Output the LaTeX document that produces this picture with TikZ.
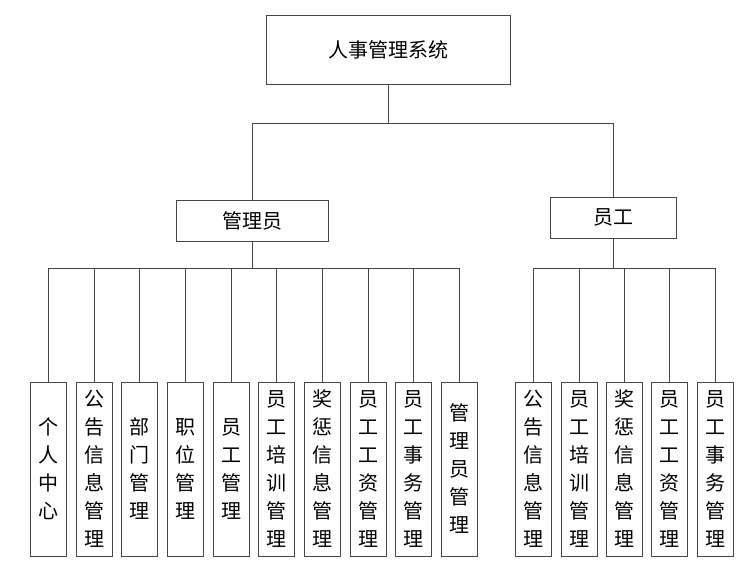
\documentclass[tikz,border=0pt]{standalone}
\usepackage{fontspec}
\newfontfamily\cjk{Noto Sans CJK SC}
\definecolor{linec}{RGB}{70,70,70}
\begin{document}
\begin{tikzpicture}[x=1pt,y=-1pt,
  box/.style={draw=linec, line width=1pt, inner sep=0pt, align=center, fill=white,
    font=\cjk\fontsize{20}{28}\selectfont},
  vbox/.style={box, minimum width=36pt, minimum height=174pt},
  conn/.style={draw=linec, line width=1pt}]
\useasboundingbox (0,0) rectangle (749,570);
\node[box, minimum width=244pt, minimum height=69pt] (top) at (388,49.5) {人事管理系统};
\node[box, minimum width=152pt, minimum height=41pt] (admin) at (252,220.5) {管理员};
\node[box, minimum width=126pt, minimum height=41pt] (staff) at (613,217.5) {员工};
\coordinate (b1) at (388,123);
\draw[conn] (top.south) -- (b1);
\draw[conn] (b1) -| (admin.north);
\draw[conn] (b1) -| (staff.north);
\coordinate (b2) at (252,268);
\coordinate (b3) at (613,268);
\foreach \t [count=\i from 0] in {{个\\人\\中\\心},{公\\告\\信\\息\\管\\理},{部\\门\\管\\理},{职\\位\\管\\理},{员\\工\\管\\理},{员\\工\\培\\训\\管\\理},{奖\\惩\\信\\息\\管\\理},{员\\工\\工\\资\\管\\理},{员\\工\\事\\务\\管\\理},{管\\理\\员\\管\\理}}{
  \node[vbox] (a\i) at ({48.3+45.7*\i},469) {\t};
  \draw[conn] (a\i.north) -- (a\i.north |- b2);
}
\foreach \t [count=\i from 0] in {{公\\告\\信\\息\\管\\理},{员\\工\\培\\训\\管\\理},{奖\\惩\\信\\息\\管\\理},{员\\工\\工\\资\\管\\理},{员\\工\\事\\务\\管\\理}}{
  \node[vbox] (s\i) at ({533.7+45.4*\i},469) {\t};
  \draw[conn] (s\i.north) -- (s\i.north |- b3);
}
\draw[conn] (admin.south) -- (b2);
\draw[conn] (a0.north |- b2) -- (a9.north |- b2);
\draw[conn] (staff.south) -- (b3);
\draw[conn] (s0.north |- b3) -- (s4.north |- b3);
\end{tikzpicture}
\end{document}
